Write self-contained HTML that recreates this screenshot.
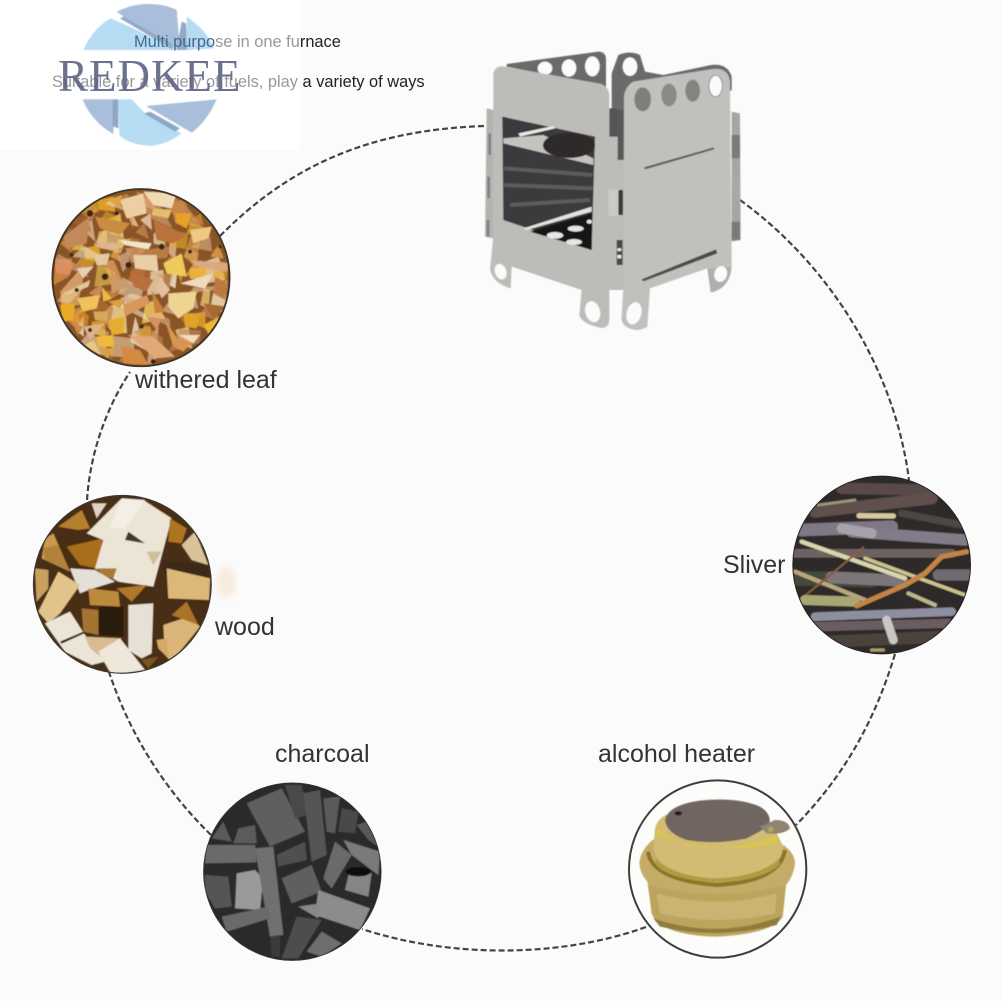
<!DOCTYPE html>
<html><head><meta charset="utf-8"><style>
html,body{margin:0;padding:0;background:#fbfbfb}
svg{display:block}
text{font-family:"Liberation Sans",sans-serif}
</style></head><body>
<svg width="1001" height="1001" viewBox="0 0 1001 1001" xmlns="http://www.w3.org/2000/svg">
<defs>
<filter id="b1" x="-5%" y="-5%" width="110%" height="110%"><feGaussianBlur stdDeviation="3"/></filter>
<filter id="b0" x="-5%" y="-5%" width="110%" height="110%"><feGaussianBlur stdDeviation="1.6"/></filter>
<filter id="b2"><feGaussianBlur stdDeviation="3"/></filter>
</defs>
<rect width="1001" height="1001" fill="#fbfbfb"/>
<rect width="300" height="150" fill="#fff"/>

<!-- dashed ring -->
<g fill="none" stroke="#444" stroke-width="2.2" stroke-dasharray="6 3">
<path d="M484 126C370 130 290 165 219 237"/>
<path d="M740 200C830 265 895 370 909 480"/>
<path d="M895 654C875 720 845 775 796 825"/>
<path d="M646 927C560 958 450 958 362 929"/>
<path d="M211 835C165 790 130 735 109 672"/>
<path d="M87 500C90 455 105 410 130 372"/>
</g>

<!-- watermark -->
<g>
<g transform="scale(.33333)" filter="url(#b0)">
<path d="M250 150 Q275 90 330 55 Q370 70 440 105 L530 150Z" fill="#b5dcf3"/>
<path d="M350 35 Q400 10 450 12 Q500 14 530 30 L540 150 L535 150 L440 100Z" fill="#a9bedb"/>
<path d="M360 55 L370 50 L515 130 L520 150Z" fill="#93a9c8"/>
<path d="M545 65 L530 150 L562 150 L558 70Z" fill="#93a9c8"/>
<path d="M560 50 Q620 90 642 145 L560 150Z" fill="#b5dcf3"/>
<path d="M248 298 L345 298 L340 402 Q275 365 248 298Z" fill="#a9bedb"/>
<path d="M338 298 L355 298 L355 385 L338 378Z" fill="#8fa6c6"/>
<path d="M355 298 L395 298 L435 340 L545 400 Q490 440 440 437 Q380 430 358 405Z" fill="#b5dcf3"/>
<path d="M438 318 L650 298 Q620 365 575 398Z" fill="#a9bedb"/>
<path d="M432 340 L450 335 L540 385 L525 395Z" fill="#8fa6c6"/>
</g>
<text x="134" y="47" font-size="16.4" fill="#555"><tspan fill="#3f6c92">Multi pu</tspan><tspan fill="#44678c">rpo</tspan><tspan fill="#999">se in one fu</tspan><tspan fill="#222">rnace</tspan></text>
<text x="52" y="87" font-size="16.4" fill="#999">Suitable for a variety of fuels, play <tspan fill="#222">a variety of ways</tspan></text>
<text x="58" y="91" font-size="45" letter-spacing="1" style="font-family:'Liberation Serif',serif" fill="#5c6283" fill-opacity=".9">REDKEE</text>
</g>

<!-- stove -->
<g transform="translate(470 40) scale(.33333)" filter="url(#b0)">
<path d="M110 72 L385 35 Q408 35 408 60 L408 140 L110 80Z" fill="#6a6b6c"/>
<ellipse cx="225" cy="85" rx="22" ry="20" fill="#fbfbfb"/><ellipse cx="297" cy="84" rx="22" ry="26" fill="#fbfbfb"/><ellipse cx="367" cy="79" rx="22" ry="30" fill="#fbfbfb"/>
<path d="M425 100 L445 45 Q480 30 510 45 L525 95 L580 105 L700 80 Q770 60 785 110 L785 150 L425 360Z" fill="#6a6b6d"/>
<ellipse cx="480" cy="80" rx="22" ry="28" fill="#fbfbfb"/>
<path d="M70 105 Q72 75 105 80 L385 130 Q415 135 418 165 L418 840 Q415 870 385 862 Q335 850 328 825 L335 750 L125 680 L122 745 Q70 730 60 690 L70 590 L70 105Z" fill="#bdbcb8"/>
<path d="M50 205 L70 210 L70 595 L45 590Z" fill="#b3b3b0"/>
<rect x="55" y="280" width="8" height="65" fill="#808080"/><rect x="52" y="410" width="8" height="65" fill="#808080"/><rect x="50" y="540" width="8" height="50" fill="#808080"/>
<path d="M97 230 L375 290 L365 630 L100 540Z" fill="#3a3a3c"/>
<path d="M100 310 L370 375 L370 355 L220 285 L100 295Z" fill="#c4c3bf"/>
<ellipse cx="297" cy="316" rx="78" ry="38" fill="#2e2c2c"/>
<path d="M145 280 L250 258 L255 265 L150 290Z" fill="#e8e8e6"/>
<g stroke="#5c5c5c" stroke-width="12" fill="none"><path d="M102 385 L368 405"/><path d="M102 435 L368 445"/><path d="M120 495 L360 480"/></g>
<path d="M160 565 L365 500 L365 515 L170 570Z" fill="#e2e2df"/>
<path d="M180 575 L365 520 L365 630 Z" fill="#171717"/>
<g fill="#e6e6e3"><ellipse cx="317" cy="566" rx="24" ry="9"/><ellipse cx="255" cy="586" rx="25" ry="10"/><ellipse cx="312" cy="606" rx="24" ry="9"/><ellipse cx="358" cy="545" rx="8" ry="6"/></g>
<ellipse cx="92" cy="695" rx="17" ry="24" fill="#fbfbfb" transform="rotate(-20 92 695)"/>
<ellipse cx="368" cy="815" rx="22" ry="32" fill="#fbfbfb" transform="rotate(-15 368 815)"/>
<rect x="415" y="285" width="47" height="465" fill="#bdbcb8"/>
<rect x="418" y="205" width="25" height="85" fill="#555"/>
<rect x="445" y="450" width="14" height="75" fill="#3a3a3a"/>
<rect x="415" y="448" width="30" height="80" fill="#cbcac7"/>
<rect x="440" y="600" width="18" height="75" fill="#4a4a4a"/>
<rect x="442" y="625" width="12" height="8" fill="#eee"/><rect x="442" y="645" width="12" height="10" fill="#eee"/>
<path d="M443 210 L462 210 L462 360 L443 360Z" fill="#595959"/>
<path d="M462 170 Q465 140 490 125 L720 88 Q775 78 780 125 L785 680 L712 685 L540 745 L532 860 Q500 880 468 860 Q452 850 455 830 L460 740 L462 170Z" fill="#c1c0bc"/>
<path d="M785 215 L810 220 L812 600 L785 605Z" fill="#a5a5a2"/>
<rect x="785" y="285" width="25" height="70" fill="#7a7a78"/><rect x="785" y="415" width="25" height="70" fill="#a8a8a5"/><rect x="785" y="545" width="25" height="55" fill="#7a7a78"/>
<ellipse cx="518" cy="178" rx="25" ry="36" fill="#7f7e7b"/>
<ellipse cx="597" cy="165" rx="23" ry="34" fill="#8b8a87"/>
<ellipse cx="668" cy="152" rx="22" ry="33" fill="#858482"/>
<ellipse cx="737" cy="138" rx="20" ry="32" fill="#fbfbfb" stroke="#666" stroke-width="2"/>
<path d="M522 382 L732 322 L732 328 L525 388Z" fill="#5a5a5a"/>
<path d="M515 718 L738 628 L742 640 L520 724Z" fill="#4b4b4b"/>
<path d="M712 685 L785 680 Q780 745 722 758Z" fill="#b0afac"/>
<ellipse cx="752" cy="702" rx="19" ry="24" fill="#fbfbfb" transform="rotate(15 752 702)"/>
<ellipse cx="492" cy="820" rx="22" ry="34" fill="#fbfbfb" transform="rotate(15 492 820)"/>
</g>

<!-- leaf -->
<g transform="translate(40 180) scale(.33333)">
<clipPath id="c1"><circle cx="303" cy="293" r="263"/></clipPath>
<circle cx="303" cy="293" r="265" fill="#8a5a2c" stroke="#3f3428" stroke-width="7"/>
<g clip-path="url(#c1)">
<g filter="url(#b0)">
<rect x="30" y="20" width="550" height="550" fill="#8a5426"/>
<use href="#lf" transform="rotate(90 303 293)" opacity=".85"/>
<use href="#lf" transform="rotate(200 303 293)" opacity=".6"/>
<g id="lf">
<path d="M240 60 L310 40 L320 100 L260 115Z" fill="#ecd0a4"/>
<path d="M310 35 L410 40 L395 85 L340 75Z" fill="#f0dcb4"/>
<path d="M205 60 L245 45 L240 85Z" fill="#dba64a"/>
<path d="M405 100 L455 100 L440 145 L410 130Z" fill="#e8a028"/>
<path d="M450 150 L515 140 L505 175 L460 190Z" fill="#efc884"/>
<path d="M340 85 L395 90 L385 115 L335 105Z" fill="#e3bd70"/>
<path d="M165 110 L270 130 L240 165 L180 145Z" fill="#c98c42"/>
<path d="M70 170 L150 110 L140 190 L80 205Z" fill="#c28a5a"/>
<path d="M170 185 L250 190 L230 210 L180 205Z" fill="#e0b48c"/>
<path d="M240 180 L335 190 L325 208 L255 195Z" fill="#f1e6c8"/>
<path d="M340 120 L440 165 L400 190 L350 180Z" fill="#b9723a"/>
<path d="M160 225 L210 220 L200 255 L170 255Z" fill="#e6c8a0"/>
<path d="M280 225 L350 225 L355 275 L285 265Z" fill="#e8cfa8"/>
<path d="M370 250 L425 220 L440 290 L380 280Z" fill="#eeca5a"/>
<path d="M450 265 L500 260 L490 300 L450 295Z" fill="#eab23a"/>
<path d="M450 240 L565 250 L560 275 L470 260Z" fill="#dca783"/>
<path d="M45 250 L100 250 L90 285 L50 280Z" fill="#d98f60"/>
<path d="M110 265 L160 260 L130 295Z" fill="#e8cfb0"/>
<path d="M70 340 L150 300 L145 320 L85 345Z" fill="#e5c796"/>
<path d="M210 270 L260 320 L215 340Z" fill="#cf9a66"/>
<path d="M270 275 L340 300 L320 335 L280 320Z" fill="#b8703c"/>
<path d="M360 290 L390 330 L365 355 L350 320Z" fill="#e3c1a0"/>
<path d="M420 310 L520 280 L495 325Z" fill="#eedac0"/>
<path d="M525 290 L565 310 L555 360 L520 340Z" fill="#bd7a40"/>
<path d="M110 355 L180 345 L170 385 L130 395Z" fill="#f0c25a"/>
<path d="M185 320 L215 355 L190 365Z" fill="#e8bc40"/>
<path d="M60 375 L105 370 L100 420 L70 425Z" fill="#e8ac26"/>
<path d="M205 365 L255 355 L240 385Z" fill="#e0a040"/>
<path d="M250 375 L320 345 L330 370 L255 410Z" fill="#d9975a"/>
<path d="M335 330 L375 395 L345 400Z" fill="#c9823e"/>
<path d="M385 340 L470 335 L460 385 L415 415 L385 380Z" fill="#eed392"/>
<path d="M490 370 L560 380 L520 415Z" fill="#a56a30"/>
<path d="M160 395 L205 395 L200 425 L165 420Z" fill="#d5a95c"/>
<path d="M205 420 L255 410 L250 460 L215 465Z" fill="#e6ad2e"/>
<path d="M430 400 L480 400 L470 445 L435 440Z" fill="#dca52a"/>
<path d="M490 435 L540 410 L510 470Z" fill="#ecb63a"/>
<path d="M320 410 L365 415 L350 450Z" fill="#d5925e"/>
<path d="M375 420 L415 480 L470 470 L430 515 L400 500Z" fill="#d89650"/>
<path d="M415 465 L480 465 L460 490Z" fill="#f0dcc0"/>
<path d="M265 465 L340 470 L405 530 L345 535Z" fill="#e1a878"/>
<path d="M170 470 L220 465 L220 500 L175 500Z" fill="#eebb3e"/>
<path d="M180 505 L225 505 L200 535Z" fill="#dca03a"/>
<path d="M245 500 L300 510 L325 555 L250 550Z" fill="#d58a42"/>
<path d="M95 425 L130 440 L115 465Z" fill="#cf8a4c"/>
<path d="M130 440 L195 430 L150 480Z" fill="#dcb48c"/>
</g>
<g fill="#3c2412"><circle cx="150" cy="100" r="10"/><circle cx="365" cy="200" r="9"/><circle cx="265" cy="255" r="9"/><circle cx="195" cy="290" r="10"/><circle cx="110" cy="330" r="6"/><circle cx="230" cy="100" r="6"/><circle cx="450" cy="215" r="6"/><circle cx="340" cy="545" r="8"/><circle cx="150" cy="450" r="6"/><circle cx="305" cy="440" r="6"/><circle cx="95" cy="225" r="6"/><circle cx="540" cy="200" r="5"/></g>
</g>
</g>
</g>

<!-- wood -->
<g transform="translate(25 485) scale(.33333)">
<clipPath id="c2"><circle cx="292" cy="298" r="265"/></clipPath>
<circle cx="292" cy="298" r="265" fill="#5a3a1c" stroke="#3d3731" stroke-width="7"/>
<g clip-path="url(#c2)"><g filter="url(#b0)">
<rect x="20" y="25" width="550" height="550" fill="#4a2e14"/>
<path d="M100 125 L170 75 L195 130 L160 135Z" fill="#b47f2e"/>
<path d="M60 160 L85 145 L135 260 L50 220Z" fill="#c99a4c"/>
<path d="M55 190 L100 180 L135 260 L60 225Z" fill="#b0823a"/>
<path d="M125 185 L235 160 L215 250 L165 240Z" fill="#a96e1e"/>
<path d="M185 145 L290 40 L355 45 L440 100 L385 305 L280 290 L210 250 L235 165Z" fill="#ece4d4"/>
<path d="M290 40 L360 45 L300 130 L255 130Z" fill="#f3eee6"/>
<path d="M310 140 L360 175 L300 165Z" fill="#433a2a"/>
<path d="M365 200 L410 200 L385 240Z" fill="#cdbf98"/>
<path d="M215 250 L275 250 L265 280 L235 275Z" fill="#a97a34"/>
<path d="M135 250 L210 255 L270 290 L190 315 L165 325Z" fill="#e4dfd8"/>
<path d="M435 100 L485 130 L470 175 L430 170Z" fill="#ad7424"/>
<path d="M470 180 L510 140 L550 240 L500 225Z" fill="#d9c39a"/>
<path d="M410 225 L550 240 L550 290 L420 270Z" fill="#3a2a18"/>
<path d="M425 250 L555 280 L552 345 L430 340Z" fill="#dcb878"/>
<path d="M30 250 L70 255 L70 310 L35 350Z" fill="#c8a060"/>
<path d="M40 380 L100 260 L165 300 L105 385 L70 415Z" fill="#e2c48a"/>
<path d="M190 310 L280 320 L285 365 L195 360Z" fill="#bc8a3e"/>
<path d="M275 310 L365 300 L320 350Z" fill="#b0782a"/>
<path d="M170 370 L220 375 L220 450 L175 440Z" fill="#a57330"/>
<path d="M222 365 L295 365 L295 455 L222 450Z" fill="#2a1a0e"/>
<path d="M310 360 L385 355 L380 505 L350 520 L310 495Z" fill="#e6e1d4"/>
<path d="M60 415 L135 380 L180 450 L240 530 L200 540 L120 500Z" fill="#ebe5d8"/>
<path d="M105 470 L175 440 L178 445 L110 476Z" fill="#2a1e12"/>
<path d="M180 455 L290 460 L220 510 L195 490Z" fill="#d9bb90"/>
<path d="M220 500 L285 460 L360 555 L260 570Z" fill="#eee7da"/>
<path d="M415 420 L490 395 L525 425 L440 530 L420 510Z" fill="#dcb678"/>
<path d="M440 390 L485 350 L520 420Z" fill="#a9742c"/>
<path d="M395 465 L425 460 L430 520 L400 490Z" fill="#d6a866"/>
<path d="M350 525 L400 515 L370 550Z" fill="#7a5524"/>
<path d="M200 55 L245 55 L215 100Z" fill="#ddd5c6"/>
</g></g>
</g>

<!-- sliver -->
<g transform="translate(785 470) scale(.33333)">
<clipPath id="c3"><circle cx="290" cy="285" r="265"/></clipPath>
<circle cx="290" cy="285" r="265" fill="#3a3432" stroke="#242020" stroke-width="6"/>
<g clip-path="url(#c3)"><g filter="url(#b0)" fill="none" stroke-linecap="round">
<rect x="20" y="15" width="550" height="550" fill="#2e2a2a" stroke="none"/>
<path d="M170 55 L430 60" stroke="#5a4a48" stroke-width="34"/>
<path d="M90 125 L440 85" stroke="#5e4f4e" stroke-width="36"/>
<path d="M100 105 L210 90" stroke="#9c9874" stroke-width="8"/>
<path d="M350 130 L530 165" stroke="#4c4744" stroke-width="22"/>
<path d="M50 180 L320 170" stroke="#7e7784" stroke-width="38"/>
<path d="M200 185 L540 210" stroke="#827c88" stroke-width="34"/>
<path d="M170 175 L260 190" stroke="#a8a2a8" stroke-width="30"/>
<path d="M222 137 L325 138" stroke="#d8c89e" stroke-width="16"/>
<path d="M30 250 L500 250" stroke="#6e6260" stroke-width="26"/>
<path d="M40 325 L260 330" stroke="#45483a" stroke-width="44"/>
<path d="M140 322 L350 332" stroke="#7c7678" stroke-width="36"/>
<path d="M460 315 L550 315" stroke="#706a72" stroke-width="34"/>
<path d="M50 215 L360 325" stroke="#d9d6ae" stroke-width="13"/>
<path d="M240 265 L540 375" stroke="#ccc290" stroke-width="11"/>
<path d="M30 305 L240 390" stroke="#b8a67c" stroke-width="13"/>
<path d="M50 385 L130 320 L235 232" stroke="#8a5c38" stroke-width="6"/>
<path d="M60 390 L210 395" stroke="#a8a772" stroke-width="30"/>
<path d="M370 370 L450 405" stroke="#bfb688" stroke-width="12"/>
<path d="M215 408 L360 345 L420 310 L470 260 L545 245" stroke="#c48444" stroke-width="15"/>
<path d="M90 440 L500 425" stroke="#8d8ea0" stroke-width="26"/>
<path d="M90 470 L490 460" stroke="#6a5c60" stroke-width="28"/>
<path d="M130 515 L480 500" stroke="#4c423e" stroke-width="36"/>
<path d="M305 450 L325 510" stroke="#c9c6c6" stroke-width="26"/>
<path d="M260 540 L295 540" stroke="#a89c6c" stroke-width="10"/>
</g></g>
</g>

<!-- charcoal -->
<g transform="translate(195 775) scale(.33333)">
<clipPath id="c4"><circle cx="292" cy="290" r="265"/></clipPath>
<circle cx="292" cy="290" r="265" fill="#2c2c2c" stroke="#333" stroke-width="5"/>
<g clip-path="url(#c4)"><g filter="url(#b0)">
<rect x="20" y="20" width="550" height="550" fill="#2c2c2c"/>
<path d="M155 85 L260 40 L330 170 L225 215Z" fill="#5f5f5f"/>
<path d="M270 30 L320 30 L340 120 L300 130Z" fill="#4a4a4a"/>
<path d="M325 55 L375 45 L395 240 L350 260Z" fill="#555"/>
<path d="M385 70 L435 65 L420 175 L395 170Z" fill="#5a5a5a"/>
<path d="M440 100 L490 110 L480 175 L430 170Z" fill="#4a4a4a"/>
<path d="M485 150 L515 140 L550 215 L520 195Z" fill="#585858"/>
<path d="M50 190 L85 140 L110 200Z" fill="#5a5a5a"/>
<path d="M130 160 L180 150 L185 205 L115 205Z" fill="#5c5c5c"/>
<path d="M35 210 L180 210 L185 262 L30 265Z" fill="#6a6a6a"/>
<path d="M245 240 L330 200 L335 255 L250 275Z" fill="#4f4f4f"/>
<path d="M420 200 L470 240 L410 340 L385 310Z" fill="#6b6b6b"/>
<path d="M445 195 L555 230 L550 300 L470 240Z" fill="#7a7a7a"/>
<path d="M465 280 L530 295 L520 365 L450 345Z" fill="#858585"/>
<ellipse cx="490" cy="290" rx="38" ry="14" fill="#111"/>
<path d="M30 300 L100 305 L110 395 L60 400 L30 350Z" fill="#555"/>
<path d="M125 295 L180 285 L205 310 L195 405 L120 400Z" fill="#9a9a9a"/>
<path d="M260 310 L350 270 L380 350 L290 385Z" fill="#5e5e5e"/>
<path d="M180 220 L235 215 L265 480 L225 485Z" fill="#6f6f6f"/>
<path d="M225 485 L255 480 L255 545 L230 545Z" fill="#3a3a3a"/>
<path d="M80 425 L220 395 L225 430 L95 470Z" fill="#6a6a6a"/>
<path d="M370 345 L525 400 L495 465 L360 420Z" fill="#8c8c8c"/>
<path d="M310 395 L375 385 L370 430Z" fill="#888"/>
<path d="M380 470 L440 505 L380 545 L335 530Z" fill="#6e6e6e"/>
<path d="M305 425 L380 435 L310 550 L260 550Z" fill="#4d4d4d"/>
</g></g>
</g>

<!-- alcohol heater -->
<g transform="translate(620 770) scale(.33333)">
<circle cx="293" cy="297" r="266" fill="#fcfcfa" stroke="#3d3d3a" stroke-width="6"/>
<g filter="url(#b0)">
<!-- outer cup -->
<path d="M58 280 Q62 235 105 205 L490 225 Q525 250 525 280 Q520 320 498 345 L488 440 Q460 490 290 500 Q120 495 95 430 L82 335 Q60 310 58 280Z" fill="#c4ab68"/>
<path d="M85 345 Q290 400 498 345 L488 440 Q460 490 290 500 Q120 495 95 430Z" fill="#bda45c"/>
<path d="M110 370 Q290 420 470 370 L465 430 Q290 470 120 430Z" fill="#cdb878" opacity=".8"/>
<path d="M100 445 Q290 510 482 440 L470 465 Q290 510 120 470Z" fill="#8f7c3e"/>
<!-- rim arc -->
<path d="M84 245 Q95 330 290 345 Q480 335 495 240" fill="none" stroke="#8c7528" stroke-width="12"/>
<!-- upper body -->
<path d="M105 175 Q115 140 150 130 L460 170 L490 230 Q480 320 290 335 Q110 320 100 230Z" fill="#d2bb72"/>
<path d="M108 265 Q160 320 290 325 Q420 320 478 265 L478 285 Q420 335 290 337 Q150 330 108 285Z" fill="#b29b45"/>
<path d="M110 172 Q170 235 290 235 Q400 230 470 195 L470 218 Q290 262 112 195Z" fill="#dcc64c"/>
<!-- lid -->
<path d="M135 150 Q145 105 240 92 Q350 80 420 110 Q460 135 445 170 Q400 195 380 205 Q290 225 200 210 Q140 190 135 150Z" fill="#6f6560"/>
<path d="M420 170 L465 150 Q505 150 510 175 Q490 195 440 190Z" fill="#8f8372"/>
<circle cx="452" cy="178" r="9" fill="#b5a060"/>
<ellipse cx="175" cy="130" rx="11" ry="6" fill="#1e1a18"/>
</g>
</g>

<ellipse cx="226" cy="582" rx="10" ry="16" fill="#f8ecdf" filter="url(#b2)"/>

<!-- labels -->
<g font-size="25" fill="#333">
<text x="135" y="388">withered leaf</text>
<text x="215" y="635">wood</text>
<text x="723" y="573">Sliver</text>
<text x="275" y="762">charcoal</text>
<text x="598" y="762">alcohol heater</text>
</g>
</svg>
</body></html>
